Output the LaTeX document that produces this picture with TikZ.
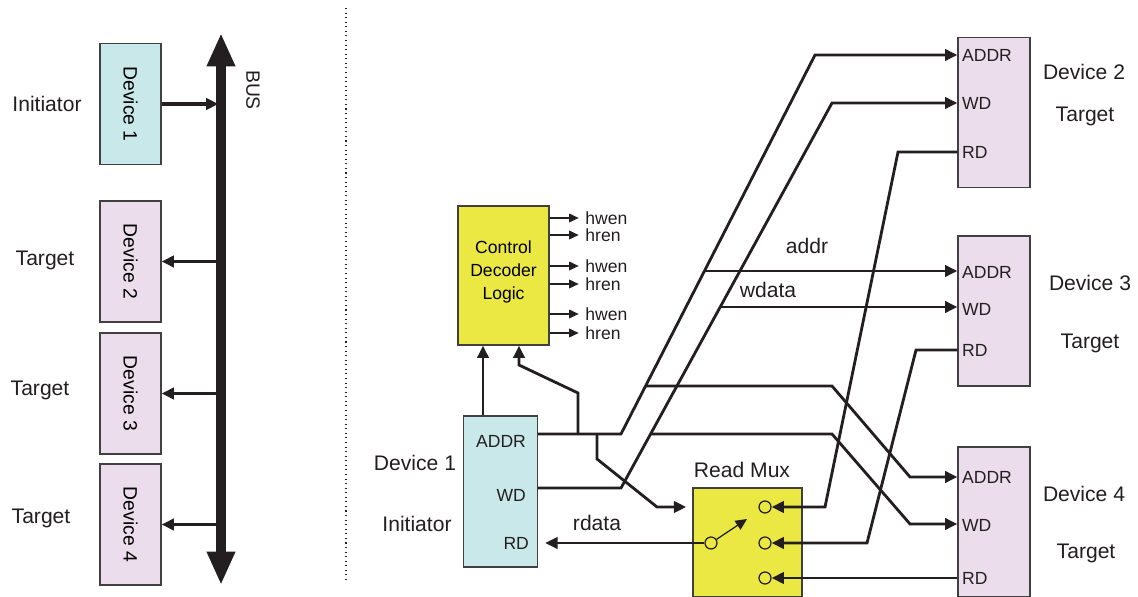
\documentclass[tikz,border=0pt]{standalone}
\usepackage{fontspec}
\setmainfont{Liberation Sans}
\usetikzlibrary{arrows.meta, positioning}
\definecolor{ink}{HTML}{231F20}
\definecolor{cyan1}{HTML}{C9E8EA}
\definecolor{pink1}{HTML}{ECDDEC}
\definecolor{yel1}{HTML}{EBE843}
\definecolor{edge1}{HTML}{404040}

\begin{document}
\begin{tikzpicture}[x=0.02cm, y=-0.02cm,
    >={Triangle[length=7pt, width=6.5pt]},
    D/.style={rectangle, draw=edge1, fill=#1, line width=0.8pt, inner sep=0pt},
    W/.style={draw=ink, line width=1.6pt},
    T/.style={draw=ink, line width=0.7pt, -{Triangle[length=5.5pt, width=5pt]}},
    P/.style={font=\fontsize{10}{12}\selectfont, text=ink, inner sep=1pt},
    L/.style={font=\fontsize{12}{14}\selectfont, text=ink},
    dot/.style={circle, draw=ink, line width=0.7pt, fill=yel1, minimum size=0.24cm, inner sep=0pt}
]
\useasboundingbox (0,0) rectangle (1138,597);

% === LEFT: SHARED BUS ===
\coordinate (bustop) at (221,33);
\coordinate (busbot) at (221,585);
\draw[ink, line width=5.5pt, {Triangle[length=19pt, width=15pt]}-{Triangle[length=19pt, width=15pt]}] (bustop) -- (busbot);
\node[L, rotate=-90, font=\fontsize{11}{13}\selectfont] (busl) at (253,90) {BUS};

\node[D=cyan1, minimum width=1.22cm, minimum height=2.42cm, font=\fontsize{11}{13}\selectfont] (dL1) at (130.5,104) {\rotatebox{-90}{Device 1}};
\foreach \n/\y in {2/261.5, 3/393.5, 4/524.5}
    \node[D=pink1, minimum width=1.22cm, minimum height=2.42cm, font=\fontsize{11}{13}\selectfont] (dL\n) at (130.5,\y) {\rotatebox{-90}{Device \n}};

\draw[W, ->, line width=2.2pt, shorten >=1.5pt] (dL1.east) -- (dL1.east -| bustop);
\foreach \n in {2,3,4}
    \draw[W, ->, line width=2.2pt] (dL\n.east -| bustop) -- (dL\n.east);

\node[L] (iniL) at (47,104) {Initiator};
\node[L] (tgL2) at (45,260) {Target};
\node[L] (tgL3) at (40,390) {Target};
\node[L] (tgL4) at (41,518) {Target};

% separator
\coordinate (sepT) at (346,8);
\coordinate (sepB) at (346,580);
\draw[ink, dotted, line width=0.6pt] (sepT) -- (sepB);

% === RIGHT: DECODER ===
\node[D=yel1, minimum width=1.82cm, minimum height=2.78cm, align=center, font=\fontsize{10}{13}\selectfont] (cdl) at (503.5,275.5) {Control\\Decoder\\Logic\\[-6.8pt]};
\foreach \y/\t in {218/hwen, 235/hren, 266/hwen, 284/hren, 314/hwen, 333/hren}
    \draw[T] (cdl.east |- 0,\y) -- ++(29,0) node[right, P, inner sep=3.5pt] {\t};

% === INITIATOR ===
\node[D=cyan1, minimum width=1.48cm, minimum height=3.02cm] (dR1) at (500.5,491.5) {};
\node[P, anchor=east] (pa1) at (528,441) {ADDR};
\node[P, anchor=east] (pw1) at (528,495) {WD};
\node[P, anchor=east] (pr1) at (531,543) {RD};
\node[L] (nm1) at (415,463) {Device 1};
\node[L] (ini) at (417,524) {Initiator};

% === TARGETS ===
\foreach \n/\y in {2/112.5, 3/311, 4/522}
    \node[D=pink1, minimum width=1.44cm, minimum height=3cm] (dR\n) at (994,\y) {};
\foreach \n/\a/\w/\r in {2/55/103/152, 3/272/309/350, 4/477/525/578} {
    \node[P, anchor=west] (pa\n) at (960,\a) {ADDR};
    \node[P, anchor=west] (pw\n) at (960,\w) {WD};
    \node[P, anchor=west] (pr\n) at (960,\r) {RD};
}
\node[L] (nm2) at (1084,72) {Device 2};
\node[L] (tg2) at (1085,116) {Target};
\node[L] (nm3) at (1090,283) {Device 3};
\node[L] (tg3) at (1090,343) {Target};
\node[L] (nm4) at (1084,494) {Device 4};
\node[L] (tg4) at (1086,553) {Target};

% === READ MUX ===
\node[D=yel1, minimum width=2.18cm, minimum height=2.18cm] (mux) at (747.5,542.5) {};
\node[L] (muxl) at (742,470) {Read Mux};
\node[dot] (c1) at (765,507) {};
\node[dot] (c2) at (765,543) {};
\node[dot] (c3) at (765,578) {};
\node[dot] (sw) at (711,543) {};
\coordinate (swend) at (747,519);
\draw[T, -{Triangle[length=6.5pt, width=6pt]}] (sw) -- (swend);

% === WIRES: addr / wdata ===
\coordinate (a1) at (621,434);
\coordinate (a2) at (815,55);
\coordinate (w1) at (621,488);
\coordinate (w2) at (832,103);
\draw[W, ->] (dR1.east |- a1) -- (a1) -- (a2) -- (a2 -| dR2.west);
\draw[W, ->] (dR1.east |- w1) -- (w1) -- (w2) -- (w2 -| dR2.west);

\coordinate (a3) at (704.5,271);
\coordinate (w3) at (720,307);
\draw[W, ->] (a3) -- (a3 -| dR3.west);
\draw[W, ->] (w3) -- (w3 -| dR3.west);
\node[L] (addrl) at (807,246) {addr};
\node[L] (wdatal) at (768,290) {wdata};

\coordinate (a4) at (645.6,386);
\coordinate (a4b) at (832,386);
\coordinate (a4c) at (910,477);
\coordinate (w4) at (650.6,434);
\coordinate (w4b) at (832,434);
\coordinate (w4c) at (910,524);
\draw[W, ->] (a4) -- (a4b) -- (a4c) -- (a4c -| dR4.west);
\draw[W, ->] (w4) -- (w4b) -- (w4c) -- (w4c -| dR4.west);

% to decoder
\coordinate (cx1) at (483,0);
\draw[W, ->] (dR1.north -| cx1) -- (cdl.south -| cx1);
\coordinate (k1) at (578,434);
\coordinate (k2) at (578,393);
\coordinate (k3) at (519,365);
\draw[W, ->] (k1) -- (k2) -- (k3) -- (k3 |- cdl.south);

% to mux select
\coordinate (m1) at (597,434);
\coordinate (m2) at (597,459);
\coordinate (m3) at (657,507);
\draw[W, ->, shorten >=3.5pt] (m1) -- (m2) -- (m3) -- (mux.west |- m3);

% === WIRES: read data ===
\coordinate (r2a) at (898,152);
\coordinate (r2b) at (825,507);
\coordinate (r3a) at (916,350);
\coordinate (r3b) at (867,543);
\draw[W, ->] (r2a -| dR2.west) -- (r2a) -- (r2b) -- (c1);
\draw[W, ->] (r3a -| dR3.west) -- (r3a) -- (r3b) -- (c2);
\draw[W, ->] (dR4.west |- c3) -- (c3);

\draw[W, ->, shorten >=4pt] (sw) -- (sw -| dR1.east);
\node[L] (rdl) at (597,523) {rdata};

\end{tikzpicture}
\end{document}
